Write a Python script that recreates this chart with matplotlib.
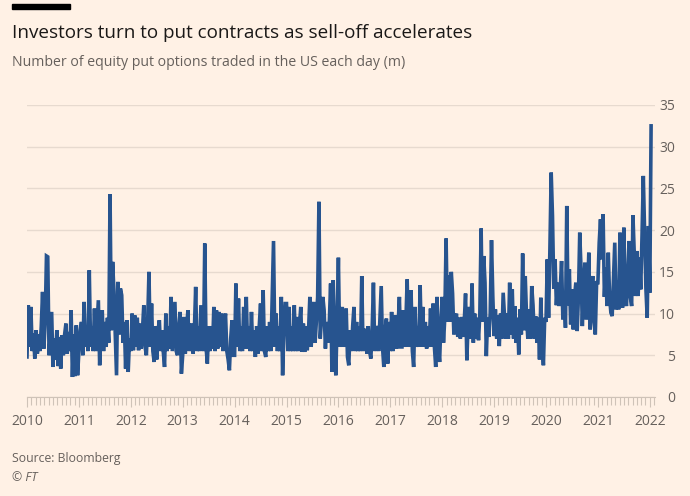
import matplotlib
matplotlib.use("Agg")
import matplotlib.pyplot as plt
from matplotlib.patches import Rectangle

# ---- data (values in millions of contracts) ----
POINTS_PER_YEAR = 40
v2010 = [4.8, 11, 6, 10.8, 5.5, 7.6, 4.6, 8, 5.2, 7.5, 5.5, 8.5, 12.6, 5.8, 9, 16.9, 16.8, 5, 7.5, 10.2,
         3.6, 7, 4.5, 8, 3.7, 7.2, 3.4, 7.4, 5, 7.5, 8.8, 5.2, 7.8, 5.5, 10.4, 2.4, 7.5, 2.5, 8.6, 2.6]
v2011 = [5.5, 8, 9, 5, 11.4, 6, 8.5, 5.5, 15.2, 6, 8.5, 5.5, 10.6, 5.5, 8.5, 11.6, 3.8, 8, 10.4, 5.5,
         9, 6, 9.5, 6.5, 24.3, 8, 16.2, 12.6, 7.5, 2.6, 13.8, 7.5, 13, 12.2, 6.5, 9, 3.4, 9.2, 3, 7]
v2012 = [5.5, 10, 5.6, 9.8, 6, 9.5, 5.6, 8.8, 5.8, 8, 11, 6, 5, 9, 15, 6, 11.2, 5.5, 4.2, 8.5,
         4.5, 8, 9.2, 5.5, 8, 5.5, 3.6, 10, 5.5, 8.5, 5.8, 12, 5.5, 8.5, 11.4, 5.5, 5, 8.5, 10.2, 2.8]
v2013 = [5, 9.6, 5.2, 8, 10.4, 5.5, 8, 8.8, 5.2, 8, 13.2, 5.5, 8.5, 5.5, 10.8, 10.8, 5.5, 18.4, 6, 4,
         8.5, 5.5, 8.5, 5.8, 10.8, 5.5, 10.4, 5.8, 10.2, 6, 10, 5.5, 8.5, 10, 5.5, 4.5, 3.2, 7, 9.2, 5]
v2014 = [5, 13.6, 6, 11.8, 5.5, 8.5, 5.5, 10.8, 5.8, 12, 5.8, 8.5, 5.5, 10.2, 5.5, 8, 4.8, 8.5, 5.2, 8.5,
         11.2, 5.5, 12.8, 5.5, 4.8, 8.5, 5.5, 9, 5.5, 12.2, 18.7, 6, 10, 5.5, 8.5, 5.5, 12, 2.6, 8, 11.2]
v2015 = [11.2, 5.5, 10.8, 5.5, 8.5, 5.5, 11, 5.5, 9.6, 5.5, 8.5, 10.8, 5.4, 8.8, 5.4, 8.5, 5.6, 8, 12, 6,
         9, 11.4, 6.5, 9, 12, 23.4, 7, 9.5, 12, 10.4, 5.8, 9, 6.5, 9, 13.6, 3, 14, 7, 2.6, 9]
v2016 = [16.7, 6, 8.5, 10.8, 6, 8.5, 10.6, 4.8, 3.8, 8, 5.5, 8.5, 10.8, 5.5, 9, 5.5, 8.5, 5.5, 14.5, 5.5,
         8, 8, 5.2, 8.5, 5.5, 4.6, 8, 13.7, 5.5, 8.5, 8, 5.5, 9.5, 13.3, 6, 3.6, 8, 9.4, 4, 9]
v2017 = [5.5, 10.2, 5.5, 8.5, 9.8, 5.8, 8.5, 12, 6, 6, 10.4, 6, 9, 14.1, 6, 8.5, 12.8, 5.5, 3.6, 10.8,
         6, 8.5, 6, 13.4, 6, 10.8, 6, 9, 5.8, 8.5, 6, 10.6, 6, 11.2, 6, 3.6, 12, 6, 4.2, 9]
v2018 = [12, 6.5, 9.5, 19, 9, 14.6, 9, 15, 12.4, 7.5, 9.5, 10, 7.2, 9.5, 7, 9.6, 7.2, 9, 12.4, 4.4,
         9, 10.8, 7, 13.6, 6.5, 10, 7, 9.5, 6.8, 10, 20.2, 9, 16.9, 13.7, 4.9, 9.5, 7.2, 10, 18.8, 12.1]
v2019 = [7.3, 10.5, 7, 9.8, 6.1, 10, 7, 12.5, 9.8, 7, 10, 7, 13.7, 7.5, 12.9, 7, 10.9, 6.5, 9.5, 5.1,
         10.5, 7.5, 17.2, 8, 14.5, 9.7, 7, 10.5, 7, 13.3, 11, 7, 9.7, 6.5, 9.5, 4.5, 11.9, 6.5, 3.8, 9.5]
v2020 = [9, 16.5, 9.5, 17.7, 26.9, 21.7, 13, 16.5, 11, 13.7, 10.9, 13, 16.3, 9.3, 12.5, 8.3, 22.9, 11, 15.3, 8.7,
         12.9, 8.1, 12, 13.7, 7.9, 12, 19.7, 15.3, 8.5, 12.9, 16.1, 9.3, 12.5, 17.3, 8.1, 12, 14.5, 9, 7.5, 13.7]
v2021 = [13.7, 18.5, 21.3, 16.5, 21.9, 12, 15.5, 10.9, 17.3, 12, 10.1, 9.7, 14, 18.5, 10.5, 14, 10.5, 19.7, 12, 10.7,
         20.3, 12, 10.9, 14.5, 18.7, 12, 10.9, 21.8, 17.3, 12.1, 17.5, 12.1, 16.7, 12.9, 19.3, 26.5, 19.7, 13, 9.5, 20.5]
v2022 = [12.5, 32.5]

year_series = [(2010, v2010), (2011, v2011), (2012, v2012), (2013, v2013),
               (2014, v2014), (2015, v2015), (2016, v2016), (2017, v2017),
               (2018, v2018), (2019, v2019), (2020, v2020), (2021, v2021),
               (2022, v2022)]

year_ticks = list(range(2010, 2023))
y_ticks = [0, 5, 10, 15, 20, 25, 30, 35]

title = "Investors turn to put contracts as sell-off accelerates"
subtitle = "Number of equity put options traded in the US each day (m)"
source = "Source: Bloomberg"
credit = "\u00a9 FT"

# ---- style ----
BG = "#FFF1E5"
LINE = "#27548F"
GRID = "#E7DACF"
TICK = "#CFC3B8"
TXT = "#66605C"
FONT = ["Open Sans", "DejaVu Sans"]
plt.rcParams["font.family"] = FONT

W, H, DPI = 690, 496, 100
fig = plt.figure(figsize=(W / DPI, H / DPI), dpi=DPI, facecolor=BG)

ax_l, ax_r = 27, 655
ax_b, ax_t = 397, 105
ax = fig.add_axes([ax_l / W, 1 - ax_b / H, (ax_r - ax_l) / W, (ax_b - ax_t) / H])
ax.set_facecolor(BG)

xs, ys = [], []
for yr, vals in year_series:
    for i, v in enumerate(vals):
        xs.append(yr + i / POINTS_PER_YEAR)
        ys.append(v)

ax.plot(xs, ys, color=LINE, lw=2.6, solid_joinstyle="miter", zorder=3)

ax.set_xlim(2010.0, 2010 + (ax_r - ax_l) / 51.9)
ax.set_ylim(0, 35)

# y axis on right
ax.yaxis.tick_right()
ax.set_yticks(y_ticks)
ax.set_yticklabels([str(t) for t in y_ticks])
ax.tick_params(axis="y", length=0, pad=14.4, labelsize=10, labelcolor=TXT)
for lab in ax.get_yticklabels():
    lab.set_horizontalalignment("right")
ax.grid(axis="y", color=GRID, lw=1, zorder=0)

# x axis
ax.set_xticks(year_ticks)
ax.set_xticklabels([str(t) for t in year_ticks])
months = [y + m / 12 for y in range(2010, 2022) for m in range(1, 12)] + [2022 + 1 / 12]
ax.set_xticks(months, minor=True)
ax.tick_params(axis="x", which="major", length=7, width=0.8, color=TICK,
               pad=5, labelsize=10, labelcolor=TXT)
ax.tick_params(axis="x", which="minor", length=6, width=0.8, color=TICK)

for s in ["top", "left", "right"]:
    ax.spines[s].set_visible(False)
ax.spines["bottom"].set_color(TICK)
ax.spines["bottom"].set_linewidth(0.8)

# ---- header / footer ----
fig.patches.append(Rectangle((12 / W, 1 - 8.5 / H), 58 / W, 4.5 / H,
                             transform=fig.transFigure, color="#000000"))
t_title = fig.text(12 / W, 1 - 38 / H, title, fontsize=15, color="#1a1817",
                   ha="left", va="baseline")
t_sub = fig.text(12 / W, 1 - 66 / H, subtitle, fontsize=11, color=TXT,
                 ha="left", va="baseline")
t_src = fig.text(12 / W, 1 - 462 / H, source, fontsize=9.5, color=TXT,
                 ha="left", va="baseline")
t_cr = fig.text(12 / W, 1 - 481 / H, credit, fontsize=9.5, color=TXT,
                ha="left", va="baseline", style="italic")

# fit text widths to the reference
r = fig.canvas.get_renderer()
for t, target in [(t_title, 460), (t_sub, 395), (t_src, 110)]:
    w = t.get_window_extent(r).width
    t.set_fontsize(t.get_fontsize() * target / w)
t_cr.set_fontsize(t_src.get_fontsize())

fig.savefig("out.png", dpi=DPI, facecolor=BG)
